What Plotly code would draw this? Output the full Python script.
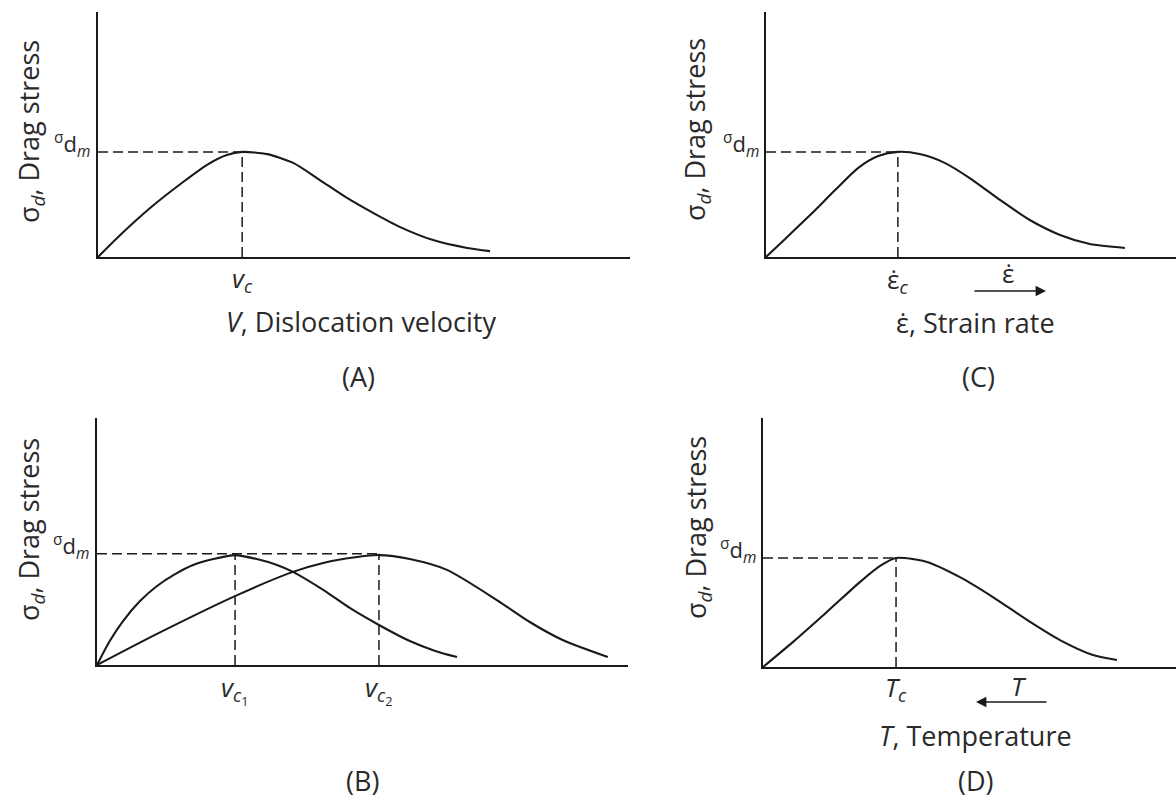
import plotly.graph_objects as go

W, H = 1176, 805

# ---------------- data (arbitrary units) ----------------
# Panel A: drag stress vs dislocation velocity
a_x = [0, 0.36, 0.98, 1.60, 2.05, 2.42, 2.71, 3.18, 3.67, 4.17, 4.68, 5.17, 5.68, 6.30, 6.94, 7.37]
a_y = [0, 0.78, 2.00, 3.06, 3.76, 4.16, 4.29, 4.20, 3.84, 3.14, 2.41, 1.80, 1.22, 0.69, 0.37, 0.24]
a_vc = 2.71
a_sdm = 4.29

# Panel B: two curves with different critical velocities
b1_x = [0, 0.24, 0.49, 0.81, 1.13, 1.47, 1.81, 2.19, 2.60, 3.01, 3.39, 3.69, 4.26, 4.76, 5.31, 5.89, 6.37, 6.78]
b1_y = [0, 0.97, 1.78, 2.59, 3.20, 3.68, 4.05, 4.29, 4.45, 4.29, 4.05, 3.77, 3.04, 2.31, 1.62, 0.97, 0.57, 0.32]
b2_x = [0, 1.13, 2.64, 3.69, 4.26, 4.90, 5.31, 5.89, 6.59, 7.53, 8.15, 8.77, 9.62]
b2_y = [0, 1.26, 2.83, 3.77, 4.13, 4.37, 4.45, 4.29, 3.85, 2.63, 1.74, 1.01, 0.32]
b_vc1 = 2.60
b_vc2 = 5.31
b_sdm = 4.50

# Panel C: drag stress vs strain rate
c_x = [0, 0.38, 0.83, 1.30, 1.73, 2.11, 2.48, 2.89, 3.36, 3.83, 4.40, 4.96, 5.53, 6.09, 6.75]
c_y = [0, 0.78, 1.71, 2.73, 3.63, 4.12, 4.29, 4.20, 3.84, 3.22, 2.33, 1.51, 0.90, 0.53, 0.37]
c_ec = 2.48
c_sdm = 4.29

# Panel D: drag stress vs temperature
d_x = [0, 0.56, 1.20, 1.82, 2.20, 2.50, 3.08, 3.70, 4.32, 4.96, 5.58, 6.20, 6.65]
d_y = [0, 1.00, 2.21, 3.41, 4.06, 4.38, 4.22, 3.61, 2.81, 1.89, 1.08, 0.48, 0.28]
d_tc = 2.50
d_sdm = 4.38

# tick / axis texts
y_title = "σ<sub><i>d</i></sub>, Drag stress"
sdm_label = "<sup>σ</sup>d<sub><i>m</i></sub>"
a_tick = "<i>v</i><sub><i>c</i></sub>"
b_tick1 = "<i>v</i><sub><i>c</i><sub>1</sub></sub>"
b_tick2 = "<i>v</i><sub><i>c</i><sub>2</sub></sub>"
c_tick = "ε̇<sub><i>c</i></sub>"
d_tick = "<i>T</i><sub><i>c</i></sub>"
a_title = "<i>V</i>, Dislocation velocity"
c_title = "ε̇, Strain rate"
d_title = "<i>T</i>, Temperature"
c_dir = "ε̇"
d_dir = "<i>T</i>"
panel_tags = ["(A)", "(B)", "(C)", "(D)"]

# ---------------- layout helpers ----------------
def px(x):
    return x / W

def py(y):
    return 1 - y / H

FONT = "Open Sans"
TXT = "#2a2a2a"
CURVE = "#1a1a1a"
DASH = "10px,5px"
BIG = 27

fig = go.Figure()

def curve(x, y, xa, ya):
    fig.add_trace(go.Scatter(x=x, y=y, xaxis=xa, yaxis=ya, mode="lines",
                             line=dict(color=CURVE, width=2.1, shape="spline", smoothing=0.7),
                             hoverinfo="skip", showlegend=False))

def dashed(x, y, xa, ya):
    fig.add_trace(go.Scatter(x=x, y=y, xaxis=xa, yaxis=ya, mode="lines",
                             line=dict(color=CURVE, width=1.5, dash=DASH),
                             hoverinfo="skip", showlegend=False))

# A
curve(a_x, a_y, "x", "y")
dashed([0, a_vc], [a_sdm, a_sdm], "x", "y")
dashed([a_vc, a_vc], [0, a_sdm], "x", "y")
# B
curve(b1_x, b1_y, "x2", "y2")
curve(b2_x, b2_y, "x2", "y2")
dashed([0, b_vc2], [b_sdm, b_sdm], "x2", "y2")
dashed([b_vc1, b_vc1], [0, b_sdm], "x2", "y2")
dashed([b_vc2, b_vc2], [0, b_sdm], "x2", "y2")
# C
curve(c_x, c_y, "x3", "y3")
dashed([0, c_ec], [c_sdm, c_sdm], "x3", "y3")
dashed([c_ec, c_ec], [0, c_sdm], "x3", "y3")
# D
curve(d_x, d_y, "x4", "y4")
dashed([0, d_tc], [d_sdm, d_sdm], "x4", "y4")
dashed([d_tc, d_tc], [0, d_sdm], "x4", "y4")

def axis(domain, rng, anchor):
    return dict(domain=domain, range=rng, anchor=anchor, showline=True, linecolor=CURVE,
                linewidth=2, showgrid=False, zeroline=False, showticklabels=False,
                ticks="", fixedrange=True)

layout_axes = dict(
    xaxis=axis([px(98), px(630)], [0, 10], "y"),
    yaxis=axis([py(257), py(12)], [0, 10], "x"),
    xaxis2=axis([px(97), px(628)], [0, 10], "y2"),
    yaxis2=axis([py(665), py(418)], [0, 10], "x2"),
    xaxis3=axis([px(766), 1.0], [0, 7.71], "y3"),
    yaxis3=axis([py(257), py(12)], [0, 10], "x3"),
    xaxis4=axis([px(763), 1.0], [0, 7.76], "y4"),
    yaxis4=axis([py(667), py(418)], [0, 10], "x4"),
)

ann = []

def text(x, y, s, size=BIG, xref="paper", yref="paper", xanchor="center", yanchor="middle",
         angle=0, yshift=0):
    ann.append(dict(x=x, y=y, xref=xref, yref=yref, text=s, showarrow=False,
                    font=dict(family=FONT, size=size, color=TXT), xanchor=xanchor,
                    yanchor=yanchor, textangle=angle, yshift=yshift))

# y titles
text(px(30), py(132), y_title, angle=-90)
text(px(30), py(530), y_title, angle=-90)
text(px(697), py(130), y_title, angle=-90)
text(px(697), py(528), y_title, angle=-90)

# sigma_dm labels
text(px(92), a_sdm, sdm_label, size=22, yref="y", xanchor="right", yshift=7)
text(px(91), b_sdm, sdm_label, size=22, yref="y2", xanchor="right", yshift=7)
text(px(761), c_sdm, sdm_label, size=22, yref="y3", xanchor="right", yshift=7)
text(px(758), d_sdm, sdm_label, size=22, yref="y4", xanchor="right", yshift=7)

# tick labels
text(a_vc, py(279), a_tick, size=26, xref="x")
text(b_vc1, py(689), b_tick1, size=26, xref="x2")
text(b_vc2, py(689), b_tick2, size=26, xref="x2")
text(c_ec, py(280), c_tick, size=26, xref="x3")
text(d_tc, py(688), d_tick, size=26, xref="x4")

# axis titles
text(px(361), py(321), a_title)
text(px(975), py(322), c_title)
text(px(975), py(735), d_title)

# panel tags
text(px(358), py(376), panel_tags[0])
text(px(362), py(780), panel_tags[1])
text(px(978), py(376), panel_tags[2])
text(px(976), py(780), panel_tags[3])

# direction arrows
text(px(1008), py(273), c_dir, size=26)
ann.append(dict(x=px(1046), y=py(291), xref="paper", yref="paper", ax=-73, ay=0,
                showarrow=True, arrowhead=2, arrowsize=1.3, arrowwidth=1.6,
                arrowcolor=CURVE, text=""))
text(px(1019), py(686), d_dir, size=26)
ann.append(dict(x=px(976), y=py(702), xref="paper", yref="paper", ax=72, ay=0,
                showarrow=True, arrowhead=2, arrowsize=1.3, arrowwidth=1.6,
                arrowcolor=CURVE, text=""))

fig.update_layout(
    width=W, height=H, margin=dict(l=0, r=0, t=0, b=0),
    paper_bgcolor="white", plot_bgcolor="white",
    showlegend=False, annotations=ann,
    font=dict(family=FONT, color=TXT),
    **layout_axes,
)

fig.write_html("out.html", config={"displayModeBar": False})
